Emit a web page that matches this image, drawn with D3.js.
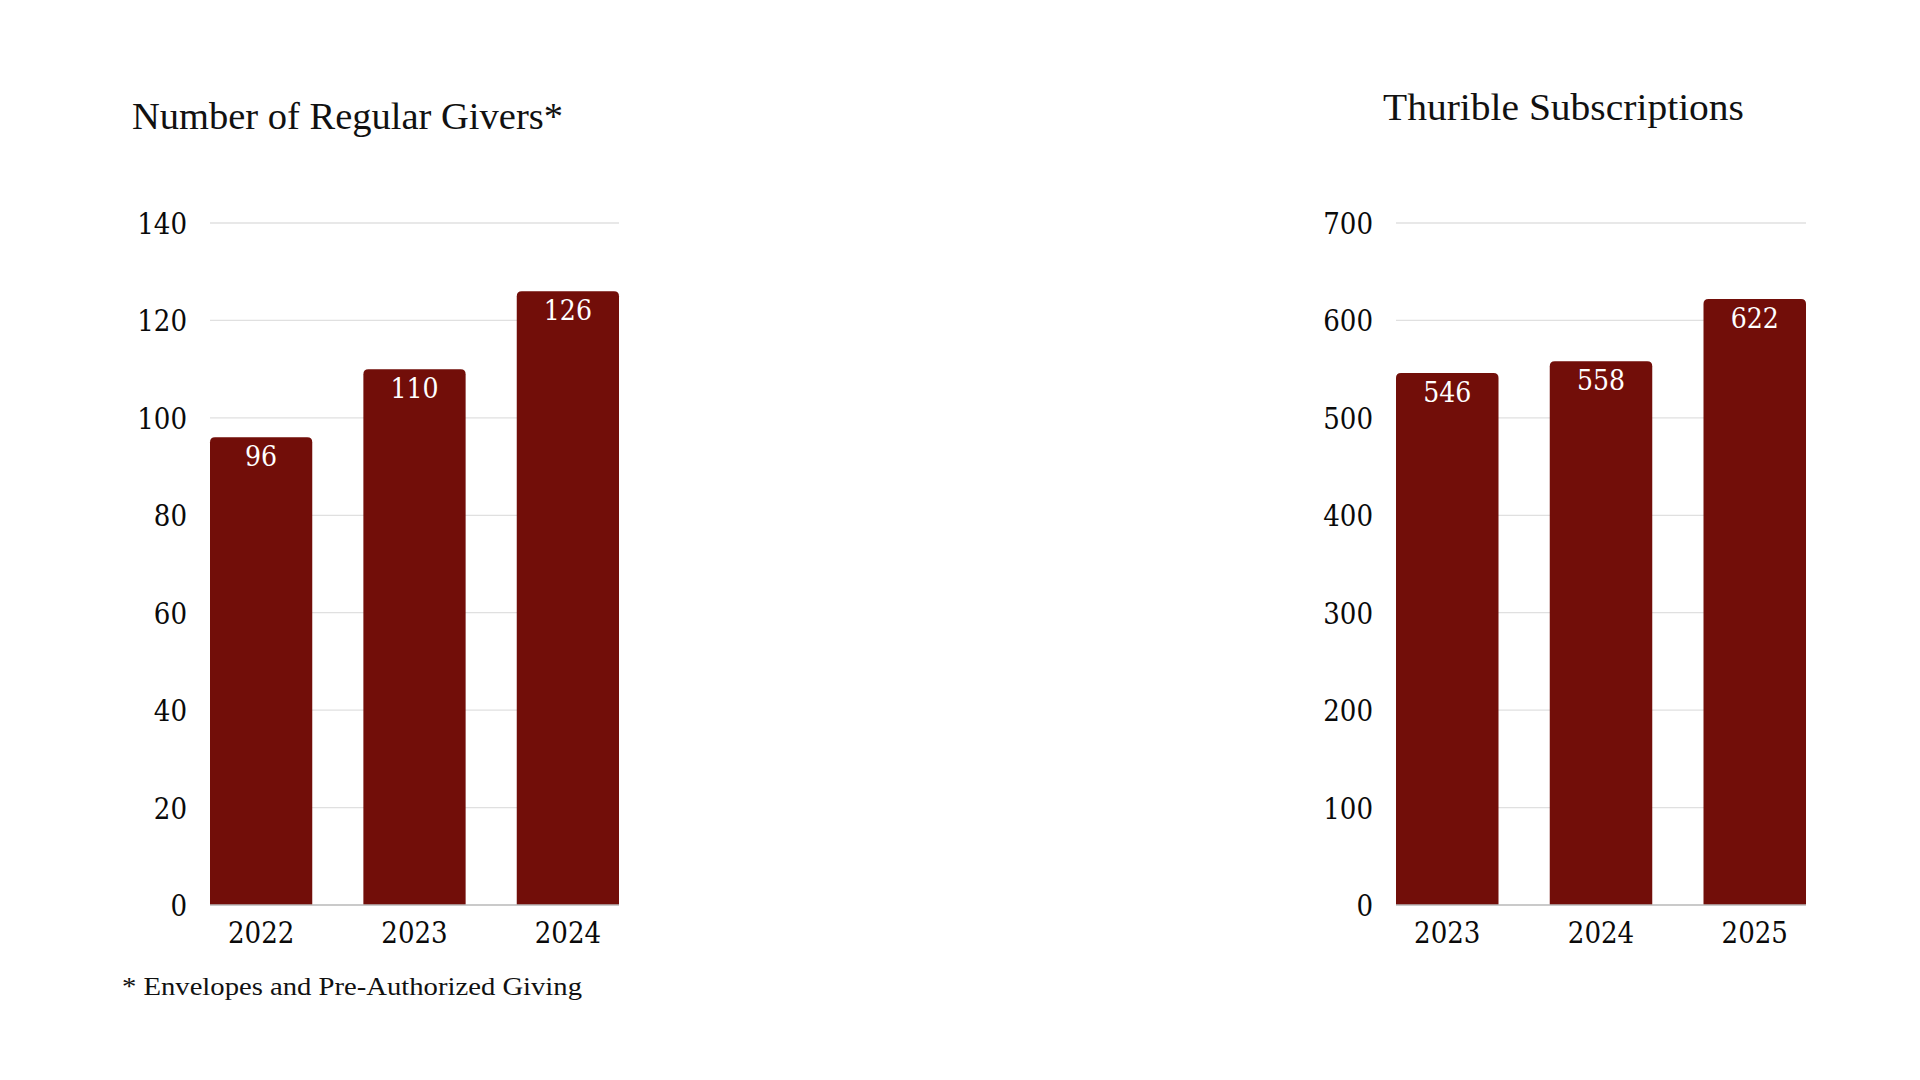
<!DOCTYPE html>
<html>
<head>
<meta charset="utf-8">
<script src="https://cdn.jsdelivr.net/npm/d3@7"></script>
<style>
  html, body { margin: 0; padding: 0; background: #ffffff; }
  svg { display: block; }
</style>
</head>
<body>
<svg id="chart" width="1920" height="1080"></svg>
<script>
// ---- data ----
const giversYears = ["2022", "2023", "2024"];
const giversValues = [96, 110, 126];
const giversTicks = [0, 20, 40, 60, 80, 100, 120, 140];

const thuribleYears = ["2023", "2024", "2025"];
const thuribleValues = [546, 558, 622];
const thuribleTicks = [0, 100, 200, 300, 400, 500, 600, 700];

const giversTitle = "Number of Regular Givers*";
const thuribleTitle = "Thurible Subscriptions";
const footnote = "* Envelopes and Pre-Authorized Giving";

// ---- style ----
const barColor = "#720e09";
const gridColor = "#e0e0e0";
const baseColor = "#b8b8b8";
const numFont = "'DejaVu Serif Condensed', 'DejaVu Serif', serif";
const titleFont = "'Liberation Serif', 'DejaVu Serif', serif";

const svg = d3.select("#chart");

function topRoundedBar(x, y, w, h, r) {
  r = Math.min(r, h, w / 2);
  return `M${x},${y + h} L${x},${y + r} Q${x},${y} ${x + r},${y} L${x + w - r},${y} Q${x + w},${y} ${x + w},${y + r} L${x + w},${y + h} Z`;
}

function drawChart(cfg) {
  const g = svg.append("g");
  const x = d3.scaleBand().domain(cfg.cats).range([cfg.left, cfg.right]).paddingInner(1 / 3).paddingOuter(0);
  const y = d3.scaleLinear().domain([0, d3.max(cfg.ticks)]).range([cfg.bottom, cfg.top]);

  // gridlines
  g.append("g").selectAll("line").data(cfg.ticks.filter(t => t !== 0)).join("line")
    .attr("x1", cfg.left).attr("x2", cfg.right)
    .attr("y1", d => y(d)).attr("y2", d => y(d))
    .attr("stroke", gridColor).attr("stroke-width", 1.3);

  // y axis labels
  const yAxis = d3.axisLeft(y).tickValues(cfg.ticks).tickSize(0).tickPadding(0);
  const ya = g.append("g").attr("transform", `translate(${cfg.labelRight},0)`).call(yAxis);
  ya.select(".domain").remove();
  ya.selectAll("text")
    .attr("font-family", numFont).attr("font-size", 29).attr("fill", "#0a0a0a")
    .attr("dy", "0.36em");

  // bars
  g.append("g").selectAll("path").data(cfg.values).join("path")
    .attr("d", (d, i) => topRoundedBar(x(cfg.cats[i]), y(d), x.bandwidth(), y(0) - y(d), 5))
    .attr("fill", barColor);

  // baseline
  g.append("line")
    .attr("x1", cfg.left).attr("x2", cfg.right)
    .attr("y1", y(0)).attr("y2", y(0))
    .attr("stroke", baseColor).attr("stroke-width", 1.3);

  // x axis labels
  const xAxis = d3.axisBottom(x).tickSize(0).tickPadding(0);
  const xa = g.append("g").attr("transform", `translate(0,${cfg.bottom})`).call(xAxis);
  xa.select(".domain").remove();
  xa.selectAll("text")
    .attr("font-family", numFont).attr("font-size", 29).attr("fill", "#0a0a0a")
    .attr("dy", 0).attr("y", 38);

  // data labels
  g.append("g").selectAll("text").data(cfg.values).join("text")
    .attr("x", (d, i) => x(cfg.cats[i]) + x.bandwidth() / 2)
    .attr("y", d => y(d) + 29)
    .attr("text-anchor", "middle")
    .attr("font-family", numFont).attr("font-size", 28).attr("fill", "#ffffff")
    .text(d => d);

  // title
  g.append("text")
    .attr("x", cfg.titleX).attr("y", cfg.titleY)
    .attr("font-family", titleFont).attr("font-size", cfg.titleSize).attr("fill", "#111")
    .attr("textLength", cfg.titleLen).attr("lengthAdjust", "spacingAndGlyphs")
    .text(cfg.title);
}

drawChart({
  cats: giversYears, values: giversValues, ticks: giversTicks,
  left: 210, right: 619, top: 223, bottom: 905, labelRight: 187,
  title: giversTitle, titleX: 132, titleY: 129, titleSize: 37, titleLen: 431
});

drawChart({
  cats: thuribleYears, values: thuribleValues, ticks: thuribleTicks,
  left: 1396, right: 1806, top: 223, bottom: 905, labelRight: 1373,
  title: thuribleTitle, titleX: 1383, titleY: 120, titleSize: 38, titleLen: 361
});

svg.append("text")
  .attr("x", 122).attr("y", 995)
  .attr("font-family", titleFont).attr("font-size", 26).attr("fill", "#111")
  .attr("textLength", 460).attr("lengthAdjust", "spacingAndGlyphs")
  .text(footnote);
</script>
</body>
</html>
